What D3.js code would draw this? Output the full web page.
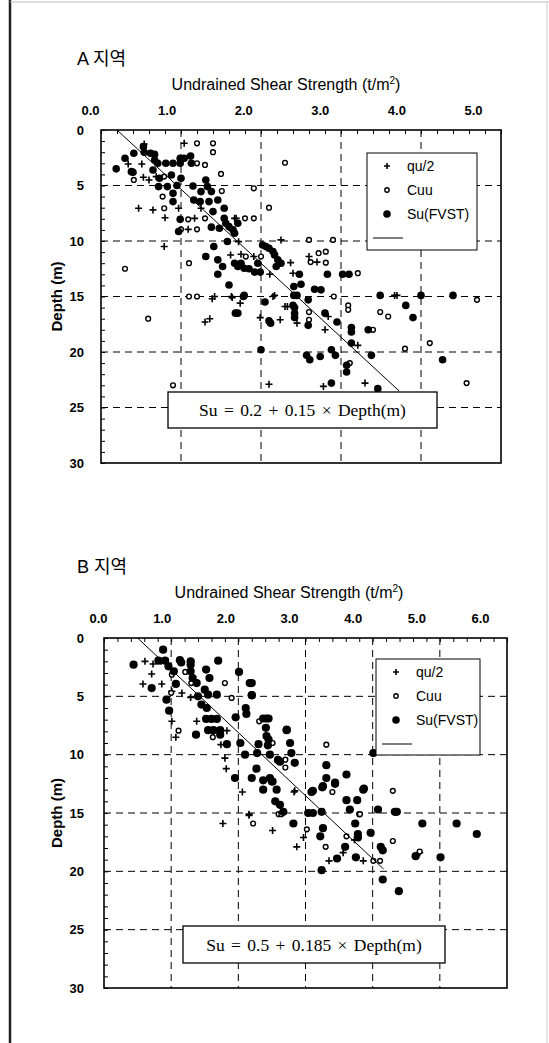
<!DOCTYPE html>
<html>
<head>
  <meta charset="UTF-8">
  <title>Undrained Shear Strength vs Depth</title>
  <script src="https://d3js.org/d3.v7.min.js"></script>
  <style>
    body {
      margin: 0;
      background: #fff;
      font-family: "Liberation Sans", Arial, sans-serif;
    }
    .grid {
      stroke: #000;
      stroke-width: 1;
      stroke-dasharray: 7,5;
    }
    .minor line { stroke: #000; stroke-width: 1; }
    .minor path { display: none; }
    .lbl path, .lbl line { display: none; }
  </style>
</head>
<body>
  <div id="chart"></div>
  <script>
    // tick values
    const depthTicks = [0, 5, 10, 15, 20, 25, 30];
    const aStrengthTicks = [0, 1, 2, 3, 4, 5];
    const bStrengthTicks = [0, 1, 2, 3, 4, 5, 6];

    // A 지역 : [strength (t/m2), depth (m)]
    const aQu = [[0.54,1.26],[1.04,1.2],[0.34,3.06],[0.51,3.06],[0.53,4.26],[0.6,4.5],[0.69,4.2],[0.47,7.05],
      [0.65,7.2],[0.97,7.05],[1.25,7.05],[1.17,7.96],[1.09,8.95],[1.69,7.96],[1.63,9.0],[1.72,10.06],[0.79,10.5],
      [1.62,11.26],[1.75,11.2],[1.91,11.4],[2.25,9.9],[2.11,13.0],[2.37,11.95],[2.4,12.9],[2.6,11.4],[2.7,11.9],
      [2.17,14.9],[1.42,15.0],[1.63,15.0],[3.67,14.9],[1.39,15.2],[1.64,15.1],[1.74,15.6],[1.3,17.3],[1.36,17.0],
      [1.99,16.9],[2.1,22.9],[2.15,15.0],[2.33,15.9],[2.45,17.4],[2.3,15.9],[2.24,17.1],[2.84,16.8],[2.8,18.0],
      [3.21,19.4],[3.7,14.9],[3.3,22.8],[2.78,23.1],[1.67,7.96],[0.8,7.9]];
    const aCuu = [[1.2,1.2],[1.4,1.2],[1.4,2.0],[1.2,3.0],[1.3,3.15],[1.5,3.96],[0.41,4.5],[0.79,4.2],[0.79,7.05],
      [0.77,6.0],[1.91,5.25],[1.51,5.5],[2.1,7.0],[2.3,2.95],[1.09,8.05],[1.3,7.96],[1.8,7.96],[1.91,7.96],[1.0,8.95],
      [1.2,8.95],[0.3,12.5],[1.1,12.0],[1.81,11.4],[2.0,11.4],[2.6,9.9],[2.9,9.9],[2.62,11.9],[2.72,11.1],[2.81,10.96],
      [2.81,11.95],[3.21,12.9],[1.1,15.0],[1.2,15.0],[2.91,15.0],[3.09,15.8],[3.09,16.2],[2.6,16.4],[2.6,17.1],
      [3.49,16.4],[3.59,16.8],[3.4,18.0],[3.11,21.0],[3.8,19.7],[4.11,19.2],[4.57,22.8],[4.7,15.3],[0.59,17.0],[0.9,23.0]];
    const aFvst = [[0.19,3.5],[0.3,2.55],[0.41,2.1],[0.4,3.8],[0.53,1.5],[0.54,2.0],[0.62,2.1],[0.67,2.2],[0.67,2.7],
      [0.71,3.0],[0.65,3.6],[0.73,4.35],[0.72,5.1],[0.83,5.1],[0.88,4.05],[0.9,5.7],[0.9,6.45],[0.95,5.0],[1.0,4.35],
      [0.99,2.55],[0.99,3.0],[1.04,2.55],[1.12,2.35],[1.13,3.0],[0.9,3.0],[0.81,3.0],[1.15,5.05],[1.16,6.3],[1.24,6.45],
      [1.25,5.55],[1.31,4.5],[1.33,5.1],[1.38,5.55],[1.35,6.45],[1.46,6.3],[1.4,7.35],[1.54,7.05],[0.99,8.05],[0.97,9.15],
      [1.38,8.75],[1.48,8.85],[1.54,7.96],[1.56,8.4],[1.6,8.7],[1.65,9.0],[1.67,9.3],[1.71,8.4],[1.58,10.05],[1.41,10.5],
      [1.46,11.7],[1.31,11.4],[1.52,12.3],[1.46,13.0],[1.6,13.96],[1.67,12.0],[1.71,12.3],[1.75,12.0],[1.79,12.45],
      [1.85,12.5],[1.92,12.8],[1.96,12.0],[2.02,10.36],[2.06,10.5],[2.1,10.65],[2.15,10.95],[2.17,11.25],[2.21,11.7],
      [2.19,12.3],[2.25,12.0],[2.48,13.0],[2.41,14.1],[2.5,13.9],[2.67,14.35],[2.75,14.4],[2.83,13.0],[3.02,13.0],
      [3.1,13.0],[2.41,14.9],[1.79,14.9],[3.49,14.9],[4.0,14.9],[4.4,14.9],[3.81,15.8],[2.05,15.5],[2.4,15.8],
      [2.42,16.0],[2.42,16.5],[2.42,16.9],[2.12,17.4],[2.59,15.3],[2.59,17.6],[2.8,16.5],[2.95,17.3],[3.13,17.8],
      [3.13,18.2],[3.13,19.2],[3.34,18.0],[3.9,16.9],[2.0,19.8],[2.57,20.3],[2.61,20.7],[2.74,20.4],[2.88,19.8],
      [2.93,20.3],[3.07,21.8],[3.07,21.2],[3.38,20.3],[4.27,20.7],[2.88,22.8],[3.46,23.3],[1.78,15.0],[1.68,16.5],
      [1.71,16.5],[2.1,17.2],[2.45,14.9],[1.99,12.8],[0.38,3.75]];

    // B 지역
    const bQu = [[0.61,2.0],[0.73,2.23],[0.71,3.09],[0.58,3.94],[0.86,3.94],[1.01,4.57],[1.16,4.71],[1.29,5.09],
      [1.01,7.14],[1.07,8.51],[1.38,7.14],[1.83,7.94],[1.74,9.14],[1.8,10.3],[1.82,11.2],[2.06,13.2],[2.84,13.1],
      [2.16,15.1],[1.77,15.9],[2.16,15.2],[2.51,16.5],[2.87,17.9],[2.97,17.1],[3.35,19.1],[3.56,18.4],[3.73,17.3],
      [3.86,19.1],[4.7,18.4],[2.83,13.2],[0.85,2.0]];
    const bCuu = [[1.21,2.91],[1.3,3.86],[1.01,3.14],[1.8,3.86],[1.9,5.14],[1.11,7.94],[1.62,8.5],[2.31,7.14],
      [2.51,9.0],[3.31,9.14],[2.7,10.43],[2.7,11.1],[3.4,13.2],[4.3,13.1],[3.8,15.1],[2.6,15.1],[1.3,2.0],[1.0,4.7],
      [2.22,15.9],[2.64,15.1],[3.02,16.4],[3.3,17.9],[3.61,17.0],[3.81,15.1],[4.01,19.1],[4.11,19.1],[4.3,17.4],[4.7,18.3]];
    const bFvst = [[0.44,2.29],[0.88,1.0],[0.81,1.94],[0.91,1.94],[0.96,2.43],[1.04,2.86],[1.13,1.9],[1.15,2.1],
      [1.29,2.0],[1.29,2.3],[1.29,2.86],[1.32,3.43],[1.07,3.94],[0.71,4.29],[0.93,5.29],[0.97,6.23],[1.38,3.86],
      [1.4,5.0],[1.52,2.71],[1.57,3.43],[1.5,4.43],[1.55,4.86],[1.45,5.71],[1.53,6.0],[1.68,4.86],[1.7,1.94],
      [2.01,2.91],[2.17,3.86],[2.2,4.91],[2.11,6.0],[2.12,6.51],[1.96,6.8],[1.52,6.94],[1.6,6.94],[1.68,6.94],
      [1.55,7.9],[1.63,7.9],[1.73,7.9],[1.73,8.29],[1.37,8.29],[1.83,9.1],[2.03,9.0],[2.42,6.9],[2.45,6.9],[2.41,7.7],
      [2.42,8.4],[2.45,8.7],[2.3,9.1],[2.28,9.86],[2.1,10.0],[2.47,10.0],[2.72,7.86],[2.77,9.0],[2.79,9.86],[2.84,10.7],
      [2.62,10.6],[2.27,11.2],[1.95,12.0],[2.2,12.0],[2.37,13.0],[2.47,12.0],[2.51,12.3],[2.57,13.0],[2.55,14.0],
      [2.62,14.3],[2.67,14.9],[3.11,13.1],[3.25,12.8],[3.31,10.9],[3.31,12.0],[3.44,12.5],[3.61,11.7],[3.61,13.9],
      [3.77,13.9],[3.87,12.9],[3.66,14.7],[4.01,9.86],[4.33,14.9],[4.08,14.7],[3.04,15.0],[3.24,14.9],[2.82,15.9],
      [3.11,15.0],[3.26,16.3],[3.22,17.0],[3.59,17.9],[3.47,18.9],[3.24,19.9],[3.74,15.9],[3.78,16.8],[3.78,17.1],
      [3.75,18.8],[3.97,16.7],[4.12,17.9],[4.15,18.2],[4.15,20.7],[4.36,14.9],[4.39,21.7],[4.64,18.7],[4.74,15.9],
      [5.01,18.8],[2.2,3.86],[2.2,4.9],[2.37,6.9],[2.72,7.9],[2.44,9.2],[2.59,10.45],[2.37,12.2],[2.5,12.3],
      [3.86,13.0],[3.26,12.7],[3.09,13.2],[3.44,12.4],[5.55,16.8],[5.25,15.9]];

    // regression lines: Su = a + b * depth
    const aFit = { a: 0.2, b: 0.15, maxDepth: 23.5 };
    const bFit = { a: 0.5, b: 0.185, maxDepth: 19.8 };

    const svg = d3.select("#chart").append("svg")
      .attr("width", 549)
      .attr("height", 1043);

    // scan frame
    svg.append("line").attr("x1", 10).attr("x2", 10).attr("y1", 0).attr("y2", 1043)
      .attr("stroke", "#222").attr("stroke-width", 2.5);
    svg.append("line").attr("x1", 10).attr("x2", 549).attr("y1", 2).attr("y2", 2)
      .attr("stroke", "#bbb").attr("stroke-width", 1);
    svg.append("line").attr("x1", 547).attr("x2", 547).attr("y1", 2).attr("y2", 1043)
      .attr("stroke", "#ccc").attr("stroke-width", 1);

    const drawPanel = (p) => {
      const x = d3.scaleLinear().domain([0, p.xTicks[p.xTicks.length - 1]]).range([p.left, p.right]);
      const y = d3.scaleLinear().domain([0, 30]).range([p.top, p.bottom]);
      const g = svg.append("g");

      // region title
      g.append("text")
        .attr("x", 77).attr("y", p.top - 65)
        .style("font-size", "18px")
        .style("font-family", "'Liberation Sans', 'Noto Sans CJK KR', sans-serif")
        .text(p.title);

      g.append("text")
        .attr("x", p.titleX).attr("y", p.top - 40)
        .attr("text-anchor", "middle")
        .style("font-size", "16px")
        .html("Undrained Shear Strength (t/m<tspan dy='-6' font-size='10px'>2</tspan><tspan dy='6'>)</tspan>");

      // grid
      g.selectAll(".vgrid").data(p.xTicks.slice(1, -1)).enter().append("line")
        .attr("class", "grid")
        .attr("x1", d => x(d)).attr("x2", d => x(d))
        .attr("y1", p.top).attr("y2", p.bottom);
      g.selectAll(".hgrid").data(depthTicks.slice(1, -1)).enter().append("line")
        .attr("class", "grid")
        .attr("x1", p.left).attr("x2", p.right)
        .attr("y1", d => y(d)).attr("y2", d => y(d));

      // minor ticks inside
      g.append("g").attr("class", "minor")
        .attr("transform", `translate(0,${p.top})`)
        .call(d3.axisBottom(x).tickValues(d3.range(0, x.domain()[1] + 0.01, 0.2)).tickSize(4).tickFormat(""));
      g.append("g").attr("class", "minor")
        .attr("transform", `translate(${p.left},0)`)
        .call(d3.axisRight(y).tickValues(d3.range(0, 31, 1)).tickSize(4).tickFormat(""));

      // tick labels
      const labelX = d3.scaleLinear().domain(x.domain()).range(p.labelRange);
      g.append("g").attr("class", "lbl")
        .attr("transform", `translate(0,${p.top - 15})`)
        .call(d3.axisTop(labelX).tickValues(p.xTicks).tickSize(0).tickPadding(0).tickFormat(d3.format(".1f")))
        .selectAll("text")
        .style("font-size", "13px").style("font-weight", "bold")
        .style("font-family", "'Liberation Sans', Arial, sans-serif")
        .attr("fill", "#000");
      g.append("g").attr("class", "lbl")
        .attr("transform", `translate(84,0)`)
        .call(d3.axisLeft(y).tickValues(depthTicks).tickSize(0).tickPadding(0))
        .selectAll("text")
        .style("font-size", "13px").style("font-weight", "bold")
        .style("font-family", "'Liberation Sans', Arial, sans-serif")
        .attr("fill", "#000");

      g.append("text")
        .attr("transform", `translate(62,${(p.top + p.bottom) / 2}) rotate(-90)`)
        .attr("text-anchor", "middle")
        .style("font-size", "15px").style("font-weight", "bold")
        .text("Depth (m)");

      // points
      g.selectAll(".qu").data(p.qu).enter().append("path")
        .attr("transform", d => `translate(${x(d[0])},${y(d[1])})`)
        .attr("d", "M-3.5,0H3.5M0,-3.5V3.5")
        .attr("stroke", "#000").attr("stroke-width", 1.6);
      g.selectAll(".cuu").data(p.cuu).enter().append("circle")
        .attr("cx", d => x(d[0])).attr("cy", d => y(d[1])).attr("r", 2.4)
        .attr("fill", "#fff").attr("stroke", "#000").attr("stroke-width", 1.4);
      g.selectAll(".fvst").data(p.fvst).enter().append("circle")
        .attr("cx", d => x(d[0])).attr("cy", d => y(d[1])).attr("r", p.dotR)
        .attr("fill", "#000");

      // regression line
      g.append("line")
        .attr("x1", x(p.fit.a)).attr("y1", y(0))
        .attr("x2", x(p.fit.a + p.fit.b * p.fit.maxDepth)).attr("y2", y(p.fit.maxDepth))
        .attr("stroke", "#000").attr("stroke-width", 1);

      // legend
      const lg = g.append("g").attr("transform", `translate(${p.legend[0]},${p.legend[1]})`);
      lg.append("rect").attr("width", p.legend[2]).attr("height", p.legend[3])
        .attr("fill", "#fff").attr("stroke", "#000").attr("stroke-width", 1);
      lg.append("path").attr("transform", "translate(20,13)")
        .attr("d", "M-3,0H3M0,-3V3").attr("stroke", "#000").attr("stroke-width", 1.6);
      lg.append("circle").attr("cx", 20).attr("cy", 37).attr("r", 2.2)
        .attr("fill", "#fff").attr("stroke", "#000").attr("stroke-width", 1.4);
      lg.append("circle").attr("cx", 20).attr("cy", 61).attr("r", 3.8).attr("fill", "#000");
      lg.append("line").attr("x1", 6).attr("x2", 36).attr("y1", 85).attr("y2", 85)
        .attr("stroke", "#000").attr("stroke-width", 1);
      lg.selectAll(".lt").data(["qu/2", "Cuu", "Su(FVST)"]).enter().append("text")
        .attr("x", 40).attr("y", (d, i) => 18 + i * 24)
        .style("font-size", "14px")
        .text(d => d);

      // equation box
      g.append("rect")
        .attr("x", p.eq[0]).attr("y", p.eq[1]).attr("width", p.eq[2]).attr("height", p.eq[3])
        .attr("fill", "#fff").attr("stroke", "#000").attr("stroke-width", 1.3);
      g.append("text")
        .attr("x", p.eq[0] + p.eq[2] / 2).attr("y", p.eq[1] + p.eq[3] / 2 + 6)
        .attr("text-anchor", "middle")
        .style("font-family", "'Liberation Serif', 'DejaVu Serif', serif")
        .style("font-size", "17.5px")
        .style("word-spacing", "2px")
        .text(`Su = ${p.fit.a} + ${p.fit.b} × Depth(m)`);

      // border
      g.append("rect")
        .attr("x", p.left).attr("y", p.top)
        .attr("width", p.right - p.left).attr("height", p.bottom - p.top)
        .attr("fill", "none").attr("stroke", "#000").attr("stroke-width", 1.6);
    };

    drawPanel({
      title: "A 지역", titleX: 286,
      left: 101, right: 501, top: 130, bottom: 463,
      xTicks: aStrengthTicks, labelRange: [90, 473],
      qu: aQu, cuu: aCuu, fvst: aFvst, fit: aFit, dotR: 3.8,
      legend: [367, 153, 110, 97],
      eq: [168, 392, 269, 36]
    });

    drawPanel({
      title: "B 지역", titleX: 289,
      left: 104, right: 507, top: 638, bottom: 988,
      xTicks: bStrengthTicks, labelRange: [98, 480],
      qu: bQu, cuu: bCuu, fvst: bFvst, fit: bFit, dotR: 4.1,
      legend: [376, 659, 104, 96],
      eq: [183, 926, 262, 37]
    });
  </script>
</body>
</html>
